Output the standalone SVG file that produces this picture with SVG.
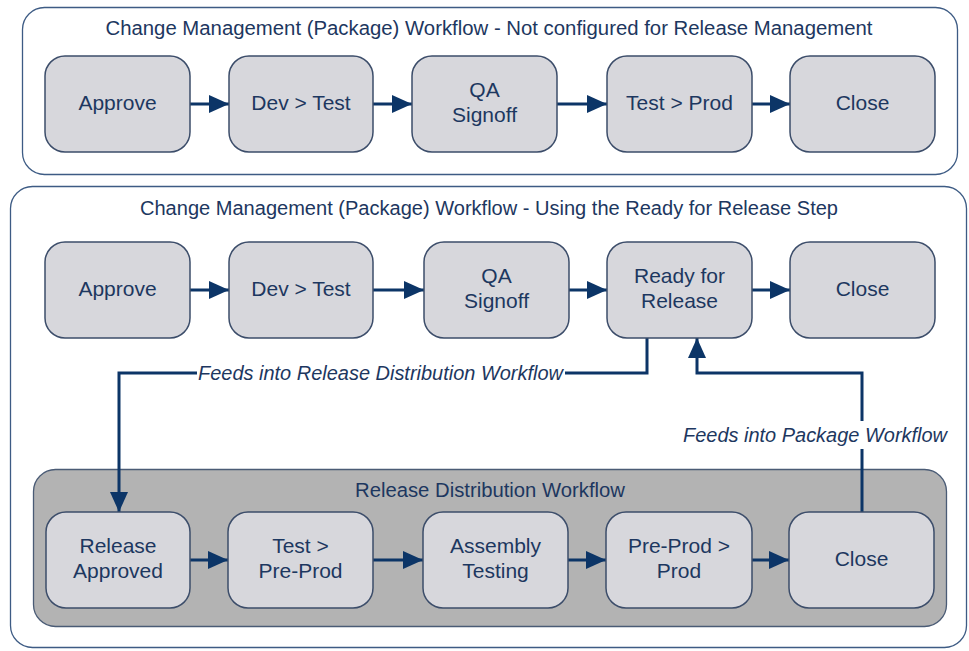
<svg xmlns="http://www.w3.org/2000/svg" width="969" height="651" viewBox="0 0 969 651">
<style>
.frame{fill:#fff;stroke:#3d5b84;stroke-width:1.3}
.rel{fill:#b3b3b3;stroke:#4a5b75;stroke-width:1.3}
.node rect{fill:#d7d7dc;stroke:#3c4d6a;stroke-width:1.5}
text{font-family:"Liberation Sans",Arial,sans-serif;fill:#1d3760}
.lbl{font-size:21px;text-anchor:middle}
.ttl{font-size:20px;text-anchor:middle}
.it{font-size:20px;font-style:italic}
.c{fill:none;stroke:#0c3567;stroke-width:3}
</style>
<defs>
<marker id="ah" markerUnits="userSpaceOnUse" markerWidth="20" markerHeight="18" refX="20" refY="9" orient="auto" viewBox="0 0 20 18">
<path d="M0,0 L20,9 L0,18 z" fill="#0c3567"/>
</marker>
</defs>
<rect class="frame" x="22.5" y="7.5" width="935" height="167" rx="22"/>
<text class="ttl" x="489" y="35" textLength="767" lengthAdjust="spacingAndGlyphs">Change Management (Package) Workflow - Not configured for Release Management</text>
<rect class="frame" x="10.5" y="186.5" width="956" height="461" rx="22"/>
<text class="ttl" x="489" y="215" textLength="698" lengthAdjust="spacingAndGlyphs">Change Management (Package) Workflow - Using the Ready for Release Step</text>
<rect class="rel" x="33.5" y="469.5" width="913" height="157" rx="22"/>
<text class="ttl" x="490" y="497" textLength="270" lengthAdjust="spacingAndGlyphs">Release Distribution Workflow</text>

<g id="connectors">
<path class="c" d="M190,104 H229" marker-end="url(#ah)"/>
<path class="c" d="M373,104 H412" marker-end="url(#ah)"/>
<path class="c" d="M557,104 H607" marker-end="url(#ah)"/>
<path class="c" d="M752,104 H790" marker-end="url(#ah)"/>
<path class="c" d="M190,290 H229" marker-end="url(#ah)"/>
<path class="c" d="M373,290 H424" marker-end="url(#ah)"/>
<path class="c" d="M569,290 H607" marker-end="url(#ah)"/>
<path class="c" d="M752,290 H790" marker-end="url(#ah)"/>
<path class="c" d="M190,560 H228" marker-end="url(#ah)"/>
<path class="c" d="M373,560 H423" marker-end="url(#ah)"/>
<path class="c" d="M568,560 H606" marker-end="url(#ah)"/>
<path class="c" d="M752,560 H789" marker-end="url(#ah)"/>
<path class="c" d="M647,338 V373 H119 V512" marker-end="url(#ah)"/>
<path class="c" d="M862,512 V373 H697 V338" marker-end="url(#ah)"/>
<rect x="197" y="360" width="368" height="26" fill="#fff"/>
<text class="it" x="198" y="380" textLength="365" lengthAdjust="spacingAndGlyphs">Feeds into Release Distribution Workflow</text>
<rect x="680" y="421" width="270" height="28" fill="#fff"/>
<text class="it" x="683" y="442" textLength="264" lengthAdjust="spacingAndGlyphs">Feeds into Package Workflow</text>
</g>

<g id="n1" class="node"><rect x="45" y="56" width="145" height="96" rx="20"/><text class="lbl" x="117.5" y="110">Approve</text></g>
<g id="n2" class="node"><rect x="229" y="56" width="144" height="96" rx="20"/><text class="lbl" x="301" y="110">Dev &gt; Test</text></g>
<g id="n3" class="node"><rect x="412" y="56" width="145" height="96" rx="20"/><text class="lbl" x="484.5" y="97">QA</text><text class="lbl" x="484.5" y="122">Signoff</text></g>
<g id="n4" class="node"><rect x="607" y="56" width="145" height="96" rx="20"/><text class="lbl" x="679.5" y="110">Test &gt; Prod</text></g>
<g id="n5" class="node"><rect x="790" y="56" width="145" height="96" rx="20"/><text class="lbl" x="862.5" y="110">Close</text></g>

<g id="m1" class="node"><rect x="45" y="242" width="145" height="96" rx="20"/><text class="lbl" x="117.5" y="296">Approve</text></g>
<g id="m2" class="node"><rect x="229" y="242" width="144" height="96" rx="20"/><text class="lbl" x="301" y="296">Dev &gt; Test</text></g>
<g id="m3" class="node"><rect x="424" y="242" width="145" height="96" rx="20"/><text class="lbl" x="496.5" y="283">QA</text><text class="lbl" x="496.5" y="308">Signoff</text></g>
<g id="m4" class="node"><rect x="607" y="242" width="145" height="96" rx="20"/><text class="lbl" x="679.5" y="283">Ready for</text><text class="lbl" x="679.5" y="308">Release</text></g>
<g id="m5" class="node"><rect x="790" y="242" width="145" height="96" rx="20"/><text class="lbl" x="862.5" y="296">Close</text></g>

<g id="r1" class="node"><rect x="46" y="512" width="144" height="96" rx="20"/><text class="lbl" x="118" y="553">Release</text><text class="lbl" x="118" y="578">Approved</text></g>
<g id="r2" class="node"><rect x="228" y="512" width="145" height="96" rx="20"/><text class="lbl" x="300.5" y="553">Test &gt;</text><text class="lbl" x="300.5" y="578">Pre-Prod</text></g>
<g id="r3" class="node"><rect x="423" y="512" width="145" height="96" rx="20"/><text class="lbl" x="495.5" y="553">Assembly</text><text class="lbl" x="495.5" y="578">Testing</text></g>
<g id="r4" class="node"><rect x="606" y="512" width="146" height="96" rx="20"/><text class="lbl" x="679" y="553">Pre-Prod &gt;</text><text class="lbl" x="679" y="578">Prod</text></g>
<g id="r5" class="node"><rect x="789" y="512" width="145" height="96" rx="20"/><text class="lbl" x="861.5" y="566">Close</text></g>
</svg>
